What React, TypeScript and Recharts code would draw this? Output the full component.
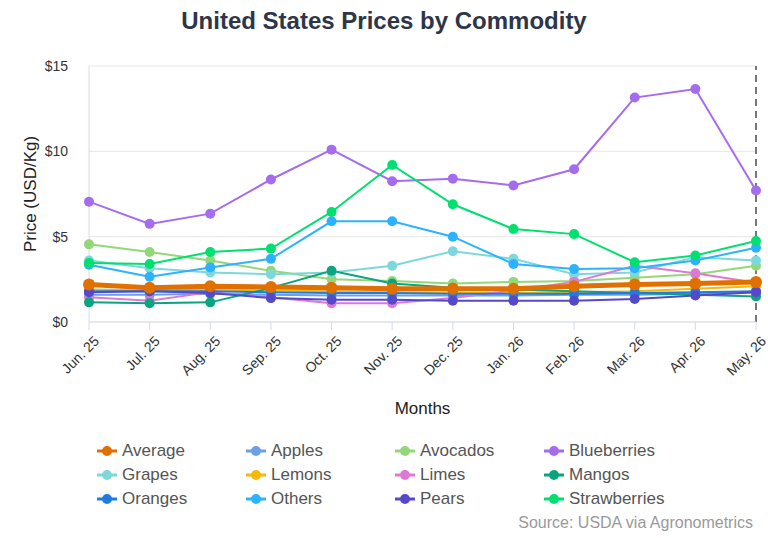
import { LineChart, Line, XAxis, YAxis, CartesianGrid, ReferenceLine } from "recharts";

const months = [
  "Jun. 25", "Jul. 25", "Aug. 25", "Sep. 25", "Oct. 25", "Nov. 25",
  "Dec. 25", "Jan. 26", "Feb. 26", "Mar. 26", "Apr. 26", "May. 26",
];

// USD per kg, one value per month
const average = [2.2, 2.0, 2.1, 2.05, 2.0, 1.95, 1.95, 1.95, 2.1, 2.2, 2.25, 2.35];
const apples = [1.6, 1.6, 1.65, 1.6, 1.55, 1.55, 1.55, 1.55, 1.6, 1.6, 1.65, 1.75];
const avocados = [4.55, 4.1, 3.6, 3.0, 2.5, 2.4, 2.25, 2.35, 2.4, 2.6, 2.8, 3.3];
const blueberries = [7.05, 5.75, 6.35, 8.35, 10.1, 8.25, 8.4, 8.0, 8.95, 13.15, 13.65, 7.7];
const grapes = [3.6, 3.15, 2.9, 2.8, 2.9, 3.3, 4.15, 3.7, 2.8, 2.9, 3.8, 3.6];
const lemons = [1.9, 1.85, 1.9, 1.85, 1.8, 1.75, 1.7, 1.7, 1.75, 1.8, 1.95, 2.1];
const limes = [1.45, 1.25, 1.75, 1.45, 1.1, 1.1, 1.4, 1.85, 2.35, 3.3, 2.85, 2.3];
const mangos = [1.15, 1.1, 1.15, 2.0, 3.0, 2.25, 2.0, 1.9, 1.8, 1.7, 1.6, 1.5];
const oranges = [1.8, 1.8, 1.8, 1.75, 1.7, 1.7, 1.65, 1.65, 1.65, 1.7, 1.75, 1.8];
const others = [3.35, 2.65, 3.2, 3.7, 5.9, 5.9, 5.0, 3.4, 3.1, 3.15, 3.6, 4.35];
const pears = [1.75, 1.8, 1.7, 1.4, 1.3, 1.3, 1.25, 1.25, 1.25, 1.35, 1.55, 1.75];
const strawberries = [3.45, 3.4, 4.1, 4.3, 6.45, 9.2, 6.9, 5.45, 5.15, 3.5, 3.9, 4.75];

const yTicks = [0, 5, 10, 15];

const series = [
  { name: "Average", values: average, color: "#e07000" },
  { name: "Apples", values: apples, color: "#6b9fe6" },
  { name: "Avocados", values: avocados, color: "#93d878" },
  { name: "Blueberries", values: blueberries, color: "#a56cf0" },
  { name: "Grapes", values: grapes, color: "#7dd8dc" },
  { name: "Lemons", values: lemons, color: "#f6b90a" },
  { name: "Limes", values: limes, color: "#de78d6" },
  { name: "Mangos", values: mangos, color: "#0aa57f" },
  { name: "Oranges", values: oranges, color: "#1f7be0" },
  { name: "Others", values: others, color: "#2db2ff" },
  { name: "Pears", values: pears, color: "#5549c9" },
  { name: "Strawberries", values: strawberries, color: "#00e070" },
];

const data = months.map((m, i) => {
  const row: any = { month: m };
  series.forEach((s) => (row[s.name] = s.values[i]));
  return row;
});

const FONT = '"Liberation Sans", Arial, sans-serif';

// average goes last so it sits on top of the commodity lines
const drawOrder = [...series.slice(1), series[0]];

export default function App() {
  return (
    <div
      style={{
        position: "absolute",
        left: 0,
        top: 0,
        width: 768,
        height: 538,
        background: "#fff",
        fontFamily: FONT,
      }}
    >
      <div
        style={{
          position: "absolute",
          top: 7,
          width: 768,
          textAlign: "center",
          fontSize: 24,
          fontWeight: "bold",
          color: "#2d3648",
        }}
      >
        United States Prices by Commodity
      </div>

      <LineChart
        width={768}
        height={538}
        data={data}
        margin={{ top: 66, right: 12, left: 0, bottom: 116 }}
        style={{ fontFamily: FONT }}
      >
        <CartesianGrid vertical={false} stroke="#e6e6e6" />
        <XAxis
          dataKey="month"
          interval={0}
          height={100}
          stroke="#d6daf0"
          tickSize={8}
          tick={{ fill: "#333", fontSize: 14, angle: -45, textAnchor: "end", dy: 3, dx: 4 } as any}
          label={{ value: "Months", position: "insideBottom", offset: 8, fill: "#222", fontSize: 17 }}
        />
        <YAxis
          width={89}
          domain={[0, 15]}
          ticks={yTicks}
          tickLine={false}
          stroke="#d6daf0"
          tickFormatter={(v) => `$${v}`}
          tick={{ fill: "#333", fontSize: 14, dx: -13 } as any}
          label={{
            value: "Price (USD/Kg)",
            angle: -90,
            position: "insideLeft",
            offset: 30,
            fill: "#222",
            fontSize: 17,
            style: { textAnchor: "middle" },
          }}
        />
        <ReferenceLine x="May. 26" stroke="#777" strokeWidth={2} strokeDasharray="7 5" />
        {drawOrder.map((s) => (
          <Line
            key={s.name}
            type="linear"
            dataKey={s.name}
            stroke={s.color}
            strokeWidth={s.name === "Average" ? 5 : 2}
            dot={{ r: s.name === "Average" ? 6 : 5, fill: s.color, stroke: s.color, strokeWidth: 0 }}
            activeDot={false}
            isAnimationActive={false}
          />
        ))}
      </LineChart>

      <div
        style={{
          position: "absolute",
          left: 97,
          top: 441,
          display: "grid",
          gridTemplateColumns: "149px 149px 149px 149px",
          rowGap: 5,
        }}
      >
        {series.map((s) => (
          <div key={s.name} style={{ display: "flex", alignItems: "center", height: 19 }}>
            <svg width={20} height={12} style={{ marginRight: 5 }}>
              <line x1={0} y1={6} x2={20} y2={6} stroke={s.color} strokeWidth={3} />
              <circle cx={10} cy={6} r={5} fill={s.color} />
            </svg>
            <span style={{ fontSize: 17, color: "#555" }}>{s.name}</span>
          </div>
        ))}
      </div>

      <div
        style={{
          position: "absolute",
          right: 15,
          top: 514,
          fontSize: 16,
          color: "#9a9a9a",
        }}
      >
        Source: USDA via Agronometrics
      </div>
    </div>
  );
}
